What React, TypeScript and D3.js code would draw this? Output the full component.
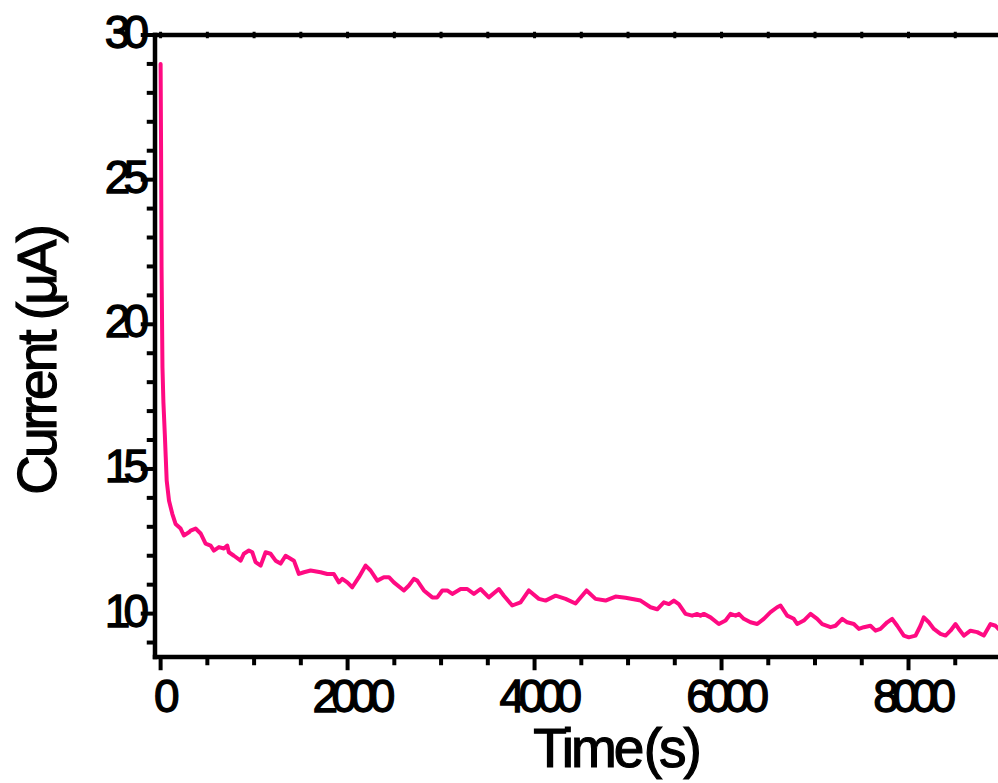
import React from "react";
import * as d3 from "d3";

const timeS = [
  0, 5, 10, 20, 30, 45, 55, 65, 90, 125, 160, 214, 249, 303, 321, 374, 428, 481, 535, 570,
  624, 677, 713, 730, 784, 856, 891, 944, 981, 1016, 1070, 1123, 1176, 1230, 1283, 1337, 1426,
  1479, 1533, 1604, 1711, 1783, 1853, 1907, 1943, 1997, 2050, 2121, 2193, 2246, 2318, 2388,
  2442, 2495, 2602, 2656, 2709, 2745, 2816, 2906, 2959, 3013, 3066, 3120, 3209, 3280, 3351,
  3422, 3511, 3618, 3672, 3761, 3850, 3939, 4046, 4118, 4225, 4332, 4438, 4556, 4652, 4759,
  4866, 4973, 5134, 5241, 5312, 5383, 5437, 5490, 5543, 5615, 5686, 5740, 5775, 5811, 5882,
  5971, 6043, 6096, 6150, 6185, 6238, 6310, 6382, 6452, 6524, 6595, 6631, 6702, 6773, 6809,
  6880, 6952, 7023, 7077, 7166, 7219, 7291, 7344, 7415, 7469, 7522, 7593, 7647, 7700, 7772,
  7825, 7879, 7950, 8003, 8075, 8128, 8164, 8217, 8271, 8342, 8396, 8449, 8503, 8538, 8592,
  8663, 8735, 8806, 8877, 8930, 8962, 9000,
];

const currentUA = [
  29.0, 26.0, 22.0, 18.5, 17.3, 16.2, 15.4, 14.6, 13.9, 13.45, 13.1, 12.94, 12.7, 12.81, 12.87,
  12.94, 12.77, 12.42, 12.35, 12.18, 12.3, 12.25, 12.35, 12.12, 12.0, 11.83, 12.07, 12.18,
  12.12, 11.78, 11.66, 12.12, 12.07, 11.83, 11.73, 12.0, 11.83, 11.37, 11.43, 11.49, 11.43,
  11.37, 11.37, 11.08, 11.2, 11.08, 10.91, 11.26, 11.66, 11.49, 11.14, 11.26, 11.26, 11.08,
  10.8, 10.97, 11.2, 11.14, 10.8, 10.56, 10.56, 10.8, 10.8, 10.68, 10.85, 10.85, 10.68, 10.85,
  10.56, 10.85, 10.62, 10.28, 10.39, 10.8, 10.51, 10.45, 10.62, 10.51, 10.35, 10.8, 10.51,
  10.45, 10.59, 10.55, 10.45, 10.22, 10.15, 10.39, 10.33, 10.45, 10.33, 9.99, 9.93, 9.99, 9.93,
  9.99, 9.87, 9.64, 9.76, 9.99, 9.93, 9.99, 9.82, 9.7, 9.64, 9.82, 10.05, 10.22, 10.28, 9.93,
  9.82, 9.64, 9.76, 9.99, 9.82, 9.64, 9.53, 9.58, 9.82, 9.7, 9.64, 9.47, 9.53, 9.58, 9.41,
  9.47, 9.7, 9.82, 9.58, 9.24, 9.18, 9.24, 9.58, 9.87, 9.7, 9.47, 9.3, 9.24, 9.41, 9.64, 9.47,
  9.24, 9.41, 9.36, 9.24, 9.64, 9.58, 9.47, 9.5,
];

const xMajorTicks = [0, 2000, 4000, 6000, 8000];
const xMinorTicks = d3.range(0, 9001, 500);
const yMajorTicks = [10, 15, 20, 25, 30];
const yMinorTicks = d3.range(9, 31, 1);
const xTitle = "Time (s)";
const yTitle = "Current (\u03bcA)";

export default function App() {
  const W = 998;
  const H = 783;
  const x = d3.scaleLinear().domain([-60, 9000]).range([155, 1002]);
  const y = d3.scaleLinear().domain([8.5, 30]).range([657, 35]);
  const pts = timeS.map((t, i) => [t, currentUA[i]] as [number, number]);
  const line = d3
    .line<[number, number]>()
    .x((d) => x(d[0]))
    .y((d) => y(d[1]));

  const left = x.range()[0];
  const right = x.range()[1];
  const top = y.range()[1];
  const bottom = y.range()[0];
  const aw = 4.5;
  const font = "'Liberation Sans', Arial, sans-serif";

  return (
    <svg
      width={W}
      height={H}
      style={{ position: "absolute", left: 0, top: 0, background: "#fff" }}
    >
      <rect x={0} y={0} width={W} height={H} fill="#fff" />
      <defs>
        <clipPath id="plotclip">
          <rect x={left} y={top} width={right - left} height={bottom - top} />
        </clipPath>
      </defs>
      <path
        d={line(pts) || ""}
        fill="none"
        stroke="#ff0a82"
        strokeWidth={4}
        strokeLinejoin="round"
        strokeLinecap="round"
        clipPath="url(#plotclip)"
      />
      {xMinorTicks.map((t) => {
        const major = xMajorTicks.includes(t);
        return (
          <line
            key={"xb" + t}
            x1={x(t)}
            x2={x(t)}
            y1={bottom}
            y2={bottom + aw / 2 + (major ? 11 : 6)}
            stroke="#000"
            strokeWidth={4}
          />
        );
      })}
      {xMinorTicks.map((t) => (
        <line
          key={"xt" + t}
          x1={x(t)}
          x2={x(t)}
          y1={top - aw / 2 - 1}
          y2={top + aw / 2 + 1}
          stroke="#000"
          strokeWidth={3}
        />
      ))}
      {yMinorTicks.map((v) => {
        const major = yMajorTicks.includes(v);
        return (
          <line
            key={"yl" + v}
            x1={left}
            x2={left - aw / 2 - (major ? 12 : 6)}
            y1={y(v)}
            y2={y(v)}
            stroke="#000"
            strokeWidth={4}
          />
        );
      })}
      <line x1={left} x2={left} y1={top - aw / 2} y2={bottom + aw / 2} stroke="#000" strokeWidth={aw} />
      <line x1={left - aw / 2} x2={W + 10} y1={bottom} y2={bottom} stroke="#000" strokeWidth={aw} />
      <line x1={left - aw / 2} x2={W + 10} y1={top} y2={top} stroke="#000" strokeWidth={aw} />
      <line x1={right} x2={right} y1={top} y2={bottom} stroke="#000" strokeWidth={aw} />
      {xMajorTicks.map((t) => (
        <text
          key={"xl" + t}
          x={x(t) + 3}
          y={712}
          textAnchor="middle"
          fontFamily={font}
          fontSize={46}
          letterSpacing={-6.5}
          stroke="#000"
          strokeWidth={1.3}
          fill="#000"
        >
          {String(t)}
        </text>
      ))}
      {yMajorTicks.map((v) => (
        <text
          key={"ylab" + v}
          x={142}
          y={y(v) + 13}
          textAnchor="end"
          fontFamily={font}
          fontSize={46}
          letterSpacing={-7}
          stroke="#000"
          strokeWidth={1.3}
          fill="#000"
        >
          {String(v)}
        </text>
      ))}
      <text
        x={616}
        y={767}
        textAnchor="middle"
        fontFamily={font}
        fontSize={55}
        letterSpacing={-3}
        wordSpacing={-10}
        stroke="#000"
        strokeWidth={1.2}
        fill="#000"
      >
        {xTitle}
      </text>
      <text
        transform={`translate(56, 361) rotate(-90)`}
        textAnchor="middle"
        fontFamily={font}
        fontSize={55}
        letterSpacing={-3}
        stroke="#000"
        strokeWidth={1.2}
        fill="#000"
      >
        {yTitle}
      </text>
    </svg>
  );
}
